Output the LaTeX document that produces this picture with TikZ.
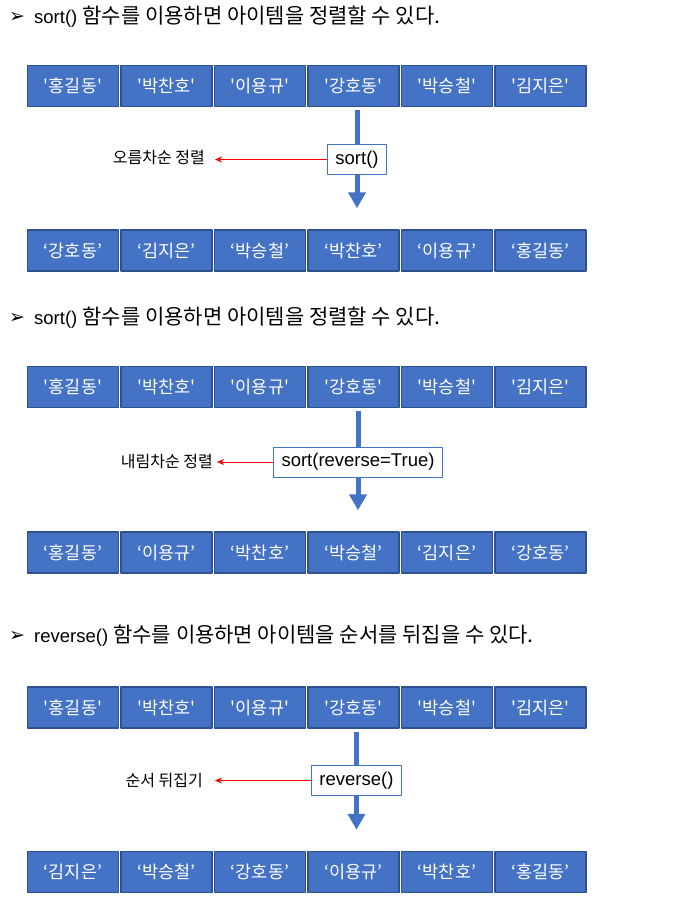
\documentclass[tikz,border=0pt]{standalone}
\usepackage{fontspec}
\setmainfont{Liberation Sans}
\newfontfamily\kr{Noto Sans CJK KR}
\newfontfamily\dingfont{DejaVu Sans}
\usetikzlibrary{arrows.meta,backgrounds}
\definecolor{itemblue}{HTML}{4472C4}
\definecolor{itemline}{HTML}{2F528F}
\newcommand{\krtitle}[1]{{\kr\fontsize{21}{21}\selectfont #1}}
\begin{document}
\begin{tikzpicture}[x=1pt,y=-1pt,line join=round,
 item/.style={draw=itemline,line width=1.5pt,fill=itemblue,text=white,minimum width=91pt,minimum height=41pt,inner sep=0pt,font=\kr\fontsize{17.5}{17.5}\selectfont},
 func/.style={draw=itemblue,line width=1pt,fill=white,minimum height=30pt,inner xsep=8pt,inner ysep=0pt,font=\fontsize{18.5}{18.5}\selectfont},
 note/.style={anchor=east,inner sep=0pt,font=\kr\fontsize{16}{16}\selectfont},
 title/.style={anchor=west,inner sep=0pt,font=\fontsize{18.5}{18.5}\selectfont},
 bullet/.style={inner sep=0pt,font=\dingfont\bfseries\fontsize{19}{19}\selectfont},
 flow/.style={draw=itemblue,line width=5pt,-{Triangle[width=17pt,length=16pt]}},
 hint/.style={draw=red,line width=0.7pt,-{Stealth[length=7pt,width=6pt]}}]
\useasboundingbox (0,0) rectangle (690,900);
% sort()
\node[bullet] (m1) at (17,17) {➢};
\node[title] (t1) at (34,17) {sort() \krtitle{함수를 이용하면 아이템을 정렬할 수 있다.}};
\foreach \w [count=\i] in {'홍길동','박찬호','이용규','강호동','박승철','김지은'}
 \node[item] (a\i) at ({73+93.5*(\i-1)},86) {\w};
\foreach \w [count=\i] in {‘강호동’,‘김지은’,‘박승철’,‘박찬호’,‘이용규’,‘홍길동’}
 \node[item] (b\i) at ({73+93.5*(\i-1)},250.5) {\w};
\node[func] (f1) at (357,159.5) {sort()};
\node[note] (n1) at (205,158) {오름차순 정렬};
\begin{scope}[on background layer]
 \draw[flow] ([yshift=-3pt]a4.south -| f1.center) -- ([yshift=21pt]b4.north -| f1.center);
\end{scope}
\draw[hint] (f1.west) -- ([xshift=10pt]n1.east |- f1.west);
% sort(reverse=True)
\node[bullet] (m2) at (17,318) {➢};
\node[title] (t2) at (34,318) {sort() \krtitle{함수를 이용하면 아이템을 정렬할 수 있다.}};
\foreach \w [count=\i] in {'홍길동','박찬호','이용규','강호동','박승철','김지은'}
 \node[item] (c\i) at ({73+93.5*(\i-1)},387) {\w};
\foreach \w [count=\i] in {‘홍길동’,‘이용규’,‘박찬호’,‘박승철’,‘김지은’,‘강호동’}
 \node[item] (d\i) at ({73+93.5*(\i-1)},552.5) {\w};
\node[func] (f2) at (358,462) {sort(reverse=True)};
\node[note] (n2) at (213,462) {내림차순 정렬};
\begin{scope}[on background layer]
 \draw[flow] ([yshift=-3pt]c4.south -| f2.center) -- ([yshift=21pt]d4.north -| f2.center);
\end{scope}
\draw[hint] (f2.west) -- ([xshift=4pt]n2.east |- f2.west);
% reverse()
\node[bullet] (m3) at (17,636) {➢};
\node[title] (t3) at (34,636) {reverse() \krtitle{함수를 이용하면 아이템을 순서를 뒤집을 수 있다.}};
\foreach \w [count=\i] in {'홍길동','박찬호','이용규','강호동','박승철','김지은'}
 \node[item] (e\i) at ({73+93.5*(\i-1)},707.5) {\w};
\foreach \w [count=\i] in {‘김지은’,‘박승철’,‘강호동’,‘이용규’,‘박찬호’,‘홍길동’}
 \node[item] (g\i) at ({73+93.5*(\i-1)},872) {\w};
\node[func] (f3) at (356.5,780.5) {reverse()};
\node[note] (n3) at (203,781) {순서 뒤집기};
\begin{scope}[on background layer]
 \draw[flow] ([yshift=-3pt]e4.south -| f3.center) -- ([yshift=21pt]g4.north -| f3.center);
\end{scope}
\draw[hint] (f3.west) -- ([xshift=12pt]n3.east |- f3.west);
\end{tikzpicture}
\end{document}
